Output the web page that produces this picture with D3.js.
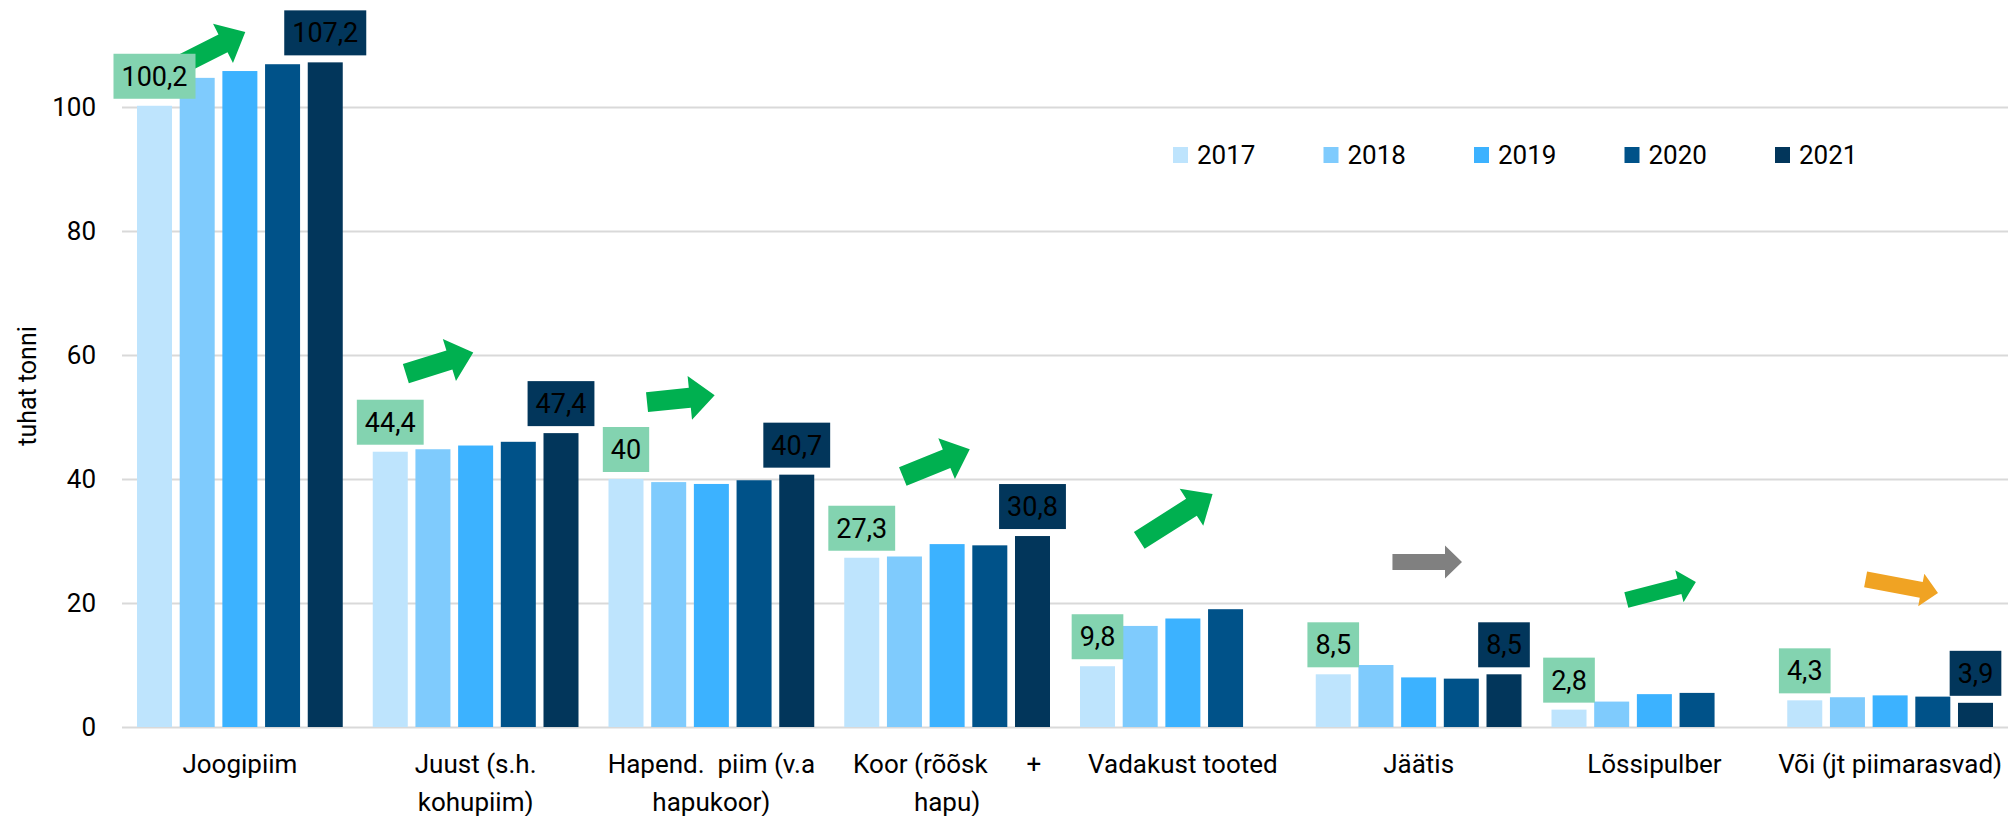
<!DOCTYPE html>
<html>
<head>
<meta charset="utf-8">
<script src="https://cdn.jsdelivr.net/npm/d3@7"></script>
<style>
  body { margin: 0; background: #fff; }
  text { font-family: Roboto, "Noto Sans", sans-serif; fill: #000; }
</style>
</head>
<body>
<div id="chart"></div>
<script>
// data (tuhat tonni)
const categories = [
  "Joogipiim",
  "Juust (s.h.\nkohupiim)",
  "Hapend.  piim (v.a\nhapukoor)",
  "Koor (rõõsk      +\nhapu)",
  "Vadakust tooted",
  "Jäätis",
  "Lõssipulber",
  "Või (jt piimarasvad)"
];
const years = ["2017", "2018", "2019", "2020", "2021"];
const v2017 = [100.2, 44.4, 40, 27.3, 9.8, 8.5, 2.8, 4.3];
const v2018 = [104.7, 44.8, 39.5, 27.5, 16.3, 10.0, 4.1, 4.8];
const v2019 = [105.8, 45.4, 39.2, 29.5, 17.5, 8.0, 5.3, 5.1];
const v2020 = [106.9, 46.0, 39.8, 29.3, 19.0, 7.8, 5.5, 4.9];
const v2021 = [107.2, 47.4, 40.7, 30.8, null, 8.5, null, 3.9];
const yTicks = [0, 20, 40, 60, 80, 100];
// trend arrows: direction and start/end level (in data units)
const trend = ["up", "up", "up", "up", "up", "flat", "up", "down"];
const trendFrom = [106.5, 57.0, 52.4, 40.4, 30.1, 26.6, 20.5, 23.8];
const trendTo = [112.1, 60.4, 53.5, 44.8, 37.6, 26.6, 23.4, 21.6];

const series = [v2017, v2018, v2019, v2020, v2021];
const colors = ["#bee4fd", "#7fcbfd", "#3cb2ff", "#005289", "#02365b"];
const trendColor = { up: "#00b050", flat: "#808080", down: "#f0a323" };

const W = 2008, H = 816;
const margin = { top: 45, right: 0, bottom: 89, left: 122 };

const svg = d3.select("#chart").append("svg")
  .attr("width", W).attr("height", H);

const x0 = d3.scaleBand()
  .domain(categories)
  .range([margin.left, W - margin.right])
  .padding(0);
const x1 = d3.scaleBand()
  .domain(years)
  .range([15, x0.bandwidth() - 15])
  .paddingInner(0.18)
  .paddingOuter(0);
const y = d3.scaleLinear()
  .domain([0, 110])
  .range([H - margin.bottom, margin.top]);

// gridlines + y tick labels
const yAxis = svg.append("g")
  .attr("transform", `translate(${margin.left},0)`)
  .call(d3.axisLeft(y).tickValues(yTicks).tickSize(-(W - margin.left - margin.right)).tickPadding(26));
yAxis.select(".domain").remove();
yAxis.selectAll(".tick line").attr("stroke", "#d9d9d9").attr("stroke-width", 2);
yAxis.selectAll(".tick text").style("font-size", "26px").attr("fill", "#000");

// y title
svg.append("text")
  .attr("transform", `translate(27,${y(55)}) rotate(-90)`)
  .attr("text-anchor", "middle")
  .attr("dominant-baseline", "central")
  .style("font-size", "25px")
  .text("tuhat tonni");

// bars
const groups = svg.append("g").selectAll("g")
  .data(categories)
  .join("g")
  .attr("transform", d => `translate(${x0(d)},0)`);

groups.selectAll("rect")
  .data((d, i) => years.map((yr, j) => ({ yr, j, v: series[j][i] })).filter(e => e.v != null))
  .join("rect")
  .attr("x", e => x1(e.yr))
  .attr("width", x1.bandwidth())
  .attr("y", e => y(e.v))
  .attr("height", e => y(0) - y(e.v))
  .attr("fill", e => colors[e.j]);

// category labels
const catLabels = svg.append("g").selectAll("text")
  .data(categories)
  .join("text")
  .attr("x", d => x0(d) + x0.bandwidth() / 2)
  .attr("y", 773)
  .attr("text-anchor", "middle")
  .style("font-size", "26px")
  .style("white-space", "pre");
catLabels.selectAll("tspan")
  .data(d => d.split("\n"))
  .join("tspan")
  .attr("x", function () { return d3.select(this.parentNode).attr("x"); })
  .attr("dy", (d, i) => i === 0 ? 0 : 38)
  .text(d => d);

// trend arrows
function arrowPath(xa, ya, xb, yb, t, h, L) {
  const dx = xb - xa, dy = yb - ya, len = Math.hypot(dx, dy);
  const ux = dx / len, uy = dy / len, nx = -uy, ny = ux;
  const bx = xb - ux * L, by = yb - uy * L;
  const p = [
    [xa + nx * t / 2, ya + ny * t / 2],
    [bx + nx * t / 2, by + ny * t / 2],
    [bx + nx * h / 2, by + ny * h / 2],
    [xb, yb],
    [bx - nx * h / 2, by - ny * h / 2],
    [bx - nx * t / 2, by - ny * t / 2],
    [xa - nx * t / 2, ya - ny * t / 2]
  ];
  return "M" + p.map(q => q.join(",")).join("L") + "Z";
}
// where each arrow sits inside its category band (fraction of band width)
const arrowX = [[0.233, 0.523], [0.204, 0.49], [0.227, 0.514], [0.312, 0.596],
                [0.315, 0.626], [0.389, 0.684], [0.381, 0.676], [0.396, 0.703]];
const arrowSize = i => i < 5 ? [20, 44, 25] : [16, 33, 17];

svg.append("g").selectAll("path")
  .data(categories)
  .join("path")
  .attr("d", (d, i) => {
    const bx = x0(d), bw = x0.bandwidth();
    const [t, h, L] = arrowSize(i);
    return arrowPath(bx + arrowX[i][0] * bw, y(trendFrom[i]),
                     bx + arrowX[i][1] * bw, y(trendTo[i]), t, h, L);
  })
  .attr("fill", (d, i) => trendColor[trend[i]]);

// value labels for 2017 and 2021
const fmt = v => String(v).replace(".", ",");
const labelData = [];
categories.forEach((c, i) => {
  labelData.push({ c, yr: "2017", v: v2017[i], fill: "#83d3b0" });
  if (v2021[i] != null) labelData.push({ c, yr: "2021", v: v2021[i], fill: "#02365b" });
});
const lab = svg.append("g").selectAll("g")
  .data(labelData)
  .join("g")
  .attr("transform", d => `translate(${x0(d.c) + x1(d.yr) + x1.bandwidth() / 2},${y(d.v) - 7})`);
lab.append("rect").attr("fill", d => d.fill);
lab.append("text")
  .attr("text-anchor", "middle")
  .attr("y", -22)
  .attr("dominant-baseline", "central")
  .style("font-size", "27px")
  .text(d => fmt(d.v));
lab.each(function () {
  const g = d3.select(this);
  const w = g.select("text").node().getComputedTextLength() + 16;
  g.select("rect").attr("x", -w / 2).attr("y", -45).attr("width", w).attr("height", 45);
});

// legend
const legend = svg.append("g").selectAll("g")
  .data(years)
  .join("g")
  .attr("transform", (d, i) => `translate(${1173 + i * 150.5},155)`);
legend.append("rect")
  .attr("x", 0).attr("y", -8).attr("width", 15).attr("height", 16)
  .attr("fill", (d, i) => colors[i]);
legend.append("text")
  .attr("x", 24)
  .attr("dominant-baseline", "central")
  .style("font-size", "26px")
  .text(d => d);
</script>
</body>
</html>
